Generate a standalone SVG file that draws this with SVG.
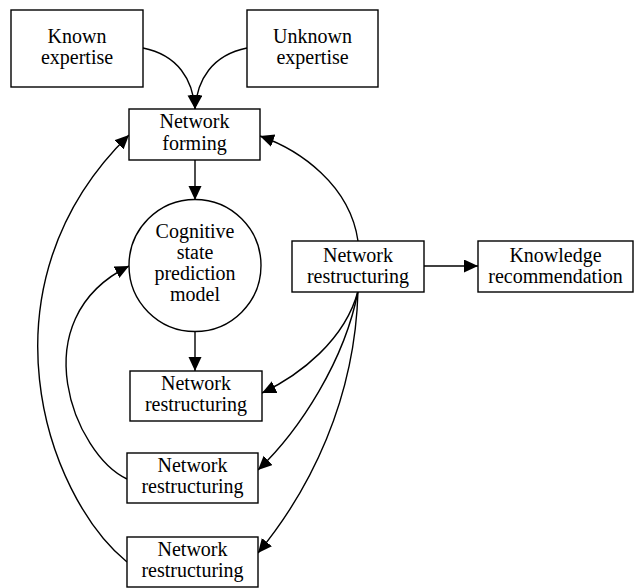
<svg xmlns="http://www.w3.org/2000/svg" width="635" height="588" viewBox="0 0 635 588">
<style>
.n{fill:#fff;stroke:#000;stroke-width:1.4}
text{font-family:'Liberation Serif','Tinos','DejaVu Serif',serif;font-size:20px;fill:#000;text-anchor:middle}
.c{fill:none;stroke:#000;stroke-width:1.4;marker-end:url(#ah)}
</style>
<defs>
<marker id="ah" markerUnits="userSpaceOnUse" markerWidth="16" markerHeight="15" refX="14" refY="6.5" orient="auto">
<path d="M0,0 L14,6.5 L0,13 z" fill="#000"/>
</marker>
</defs>
<rect width="635" height="588" fill="#fff"/>
<g id="connectors">
<path class="c" d="M143,48 C178,55 193,80 195,109"/>
<path class="c" d="M247,48 C212,55 197,80 195,109"/>
<path class="c" d="M195,160 L195,200"/>
<path class="c" d="M358,241 C350,185 300,150 260,136"/>
<path class="c" d="M127,562 C45,495 -25,285 129,135"/>
<path class="c" d="M127,479 C75,455 20,320 129,266"/>
<path class="c" d="M195,331 L195,371"/>
<path class="c" d="M424,266 L478,266"/>
<path class="c" d="M358,291 C345,340 300,375 262,393"/>
<path class="c" d="M358,291 C345,360 300,430 258,470"/>
<path class="c" d="M358,291 C355,400 310,490 258,553"/>
</g>
<g id="known">
<rect class="n" x="11" y="10" width="132" height="77"/>
<text x="77" y="43">Known</text>
<text x="77" y="64">expertise</text>
</g>
<g id="unknown">
<rect class="n" x="247" y="10" width="131" height="77"/>
<text x="312.5" y="43">Unknown</text>
<text x="312.5" y="64">expertise</text>
</g>
<g id="forming">
<rect class="n" x="129" y="109" width="131" height="51"/>
<text x="194.5" y="128">Network</text>
<text x="194.5" y="150">forming</text>
</g>
<g id="model">
<circle class="n" cx="195" cy="265.5" r="66"/>
<text x="195" y="238">Cognitive</text>
<text x="195" y="259">state</text>
<text x="195" y="280">prediction</text>
<text x="195" y="301">model</text>
</g>
<g id="restructR">
<rect class="n" x="292" y="241" width="132" height="51"/>
<text x="358" y="262">Network</text>
<text x="358" y="283">restructuring</text>
</g>
<g id="recommend">
<rect class="n" x="478" y="241" width="155" height="51"/>
<text x="555.5" y="262">Knowledge</text>
<text x="555.5" y="283">recommendation</text>
</g>
<g id="restruct1">
<rect class="n" x="130" y="371" width="132" height="50"/>
<text x="196" y="390">Network</text>
<text x="196" y="411">restructuring</text>
</g>
<g id="restruct2">
<rect class="n" x="127" y="453" width="131" height="50"/>
<text x="192.5" y="472">Network</text>
<text x="192.5" y="493">restructuring</text>
</g>
<g id="restruct3">
<rect class="n" x="127" y="537" width="131" height="50"/>
<text x="192.5" y="556">Network</text>
<text x="192.5" y="577">restructuring</text>
</g>
</svg>
